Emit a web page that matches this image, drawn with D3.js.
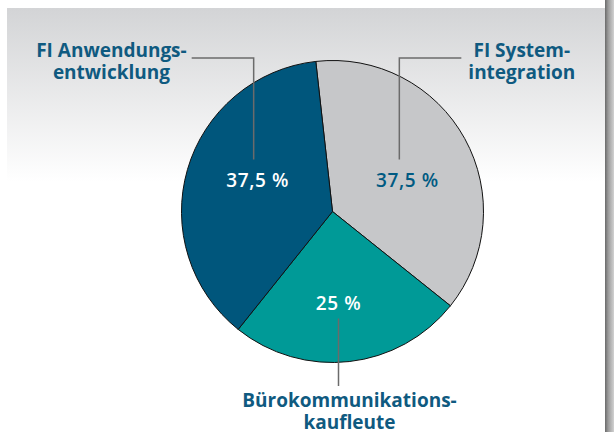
<!DOCTYPE html>
<html lang="de">
<head>
<meta charset="UTF-8">
<title>Ausbildungsberufe</title>
<script src="https://d3js.org/d3.v7.min.js"></script>
<style>
  html, body { margin: 0; padding: 0; background: #fff; }
  svg text { font-family: "Open Sans", "Noto Sans", sans-serif; }
</style>
</head>
<body>
<script>
// data
const categories = ["FI Systemintegration", "Bürokommunikationskaufleute", "FI Anwendungsentwicklung"];
const values = [37.5, 25, 37.5];
const valueLabels = ["37,5 %", "25 %", "37,5 %"];
const titleLines = [["FI System-", "integration"], ["Bürokommunikations-", "kaufleute"], ["FI Anwendungs-", "entwicklung"]];
const colors = ["#c6c7c9", "#009a97", "#00567c"];
const valueColors = ["#005a82", "#ffffff", "#ffffff"];

const W = 614, H = 432;
const cx = 332.5, cy = 211.5, R = 151;
const titleColor = "#0f5a80";
const leaderColor = "#6b6b6b";

const svg = d3.select("body").append("svg")
  .attr("width", W)
  .attr("height", H);

// background panel with gradient + right shadow
const defs = svg.append("defs");
const bg = defs.append("linearGradient").attr("id", "bg")
  .attr("x1", 0).attr("y1", 0).attr("x2", 0).attr("y2", 1);
bg.append("stop").attr("offset", "0").attr("stop-color", "#d3d4d6");
bg.append("stop").attr("offset", "0.41").attr("stop-color", "#ffffff");
bg.append("stop").attr("offset", "1").attr("stop-color", "#ffffff");

const sh = defs.append("linearGradient").attr("id", "shadow")
  .attr("x1", 0).attr("y1", 0).attr("x2", 1).attr("y2", 0);
sh.append("stop").attr("offset", "0").attr("stop-color", "#6a6a6a");
sh.append("stop").attr("offset", "0.35").attr("stop-color", "#9a9a9a");
sh.append("stop").attr("offset", "1").attr("stop-color", "#d2d2d2");

svg.append("rect").attr("x", 7).attr("y", 8).attr("width", 598).attr("height", H - 8)
  .attr("fill", "url(#bg)");
svg.append("rect").attr("x", 605).attr("y", 0).attr("width", 9).attr("height", H)
  .attr("fill", "url(#shadow)");

// pie
const rot = -6.35 * Math.PI / 180;
const pie = d3.pie().sort(null).startAngle(rot).endAngle(rot + 2 * Math.PI);
const labelPie = d3.pie().sort(null); // labels sit as if the pie were not turned
const arc = d3.arc().innerRadius(0).outerRadius(R);
// small slice gets its label a bit further out
const labelArc = d3.arc().innerRadius(0).outerRadius(d => d.data < 30 ? 184 : 162);

const g = svg.append("g").attr("transform", `translate(${cx},${cy})`);

g.selectAll("path.slice")
  .data(pie(values))
  .enter()
  .append("path")
  .attr("class", "slice")
  .attr("d", arc)
  .attr("fill", (d, i) => colors[i])
  .attr("stroke", "#111")
  .attr("stroke-width", 1);

const lab = labelPie(values).map(d => labelArc.centroid(d));

// leader lines
const line = d3.line();
const yTop = -R - 2.5, yBottom = R + 23.5;
const leaders = [
  [[lab[0][0] - 8, lab[0][1] - 21], [lab[0][0] - 8, yTop], [lab[0][0] + 54, yTop]],
  [[lab[1][0] + 6, lab[1][1] + 15], [lab[1][0] + 6, yBottom]],
  [[lab[2][0] - 4, lab[2][1] - 21], [lab[2][0] - 4, yTop], [lab[2][0] - 66, yTop]]
];
g.selectAll("path.leader")
  .data(leaders)
  .enter()
  .append("path")
  .attr("class", "leader")
  .attr("d", line)
  .attr("fill", "none")
  .attr("stroke", leaderColor)
  .attr("stroke-width", 1.5);

// value labels
g.selectAll("text.val")
  .data(valueLabels)
  .enter()
  .append("text")
  .attr("class", "val")
  .attr("x", (d, i) => i === 1 ? lab[i][0] + 6 : lab[i][0])
  .attr("y", (d, i) => lab[i][1])
  .attr("dy", "0.35em")
  .attr("text-anchor", "middle")
  .attr("font-size", 19)
  .attr("font-weight", 600)
  .attr("letter-spacing", 0.6)
  .attr("fill", (d, i) => valueColors[i])
  .text(d => d);

// category titles
function title(lines, x, y, anchorSide) {
  const t = g.append("text")
    .attr("font-size", 19)
    .attr("font-weight", 700)
    .attr("fill", titleColor)
    .attr("text-anchor", "middle");
  const spans = lines.map((s, k) => t.append("tspan").attr("y", y + k * 22.5).text(s));
  const w = d3.max(spans, s => s.node().getComputedTextLength());
  let mid = x;
  if (anchorSide === "end") mid = x - w / 2;
  if (anchorSide === "start") mid = x + w / 2;
  spans.forEach(s => s.attr("x", mid));
}
title(titleLines[0], leaders[0][2][0] + 7, yTop - 1.5, "start");
title(titleLines[1], leaders[1][1][0] + 11, yBottom + 20.5, "middle");
title(titleLines[2], leaders[2][2][0] - 5, yTop - 1.5, "end");
</script>
</body>
</html>
